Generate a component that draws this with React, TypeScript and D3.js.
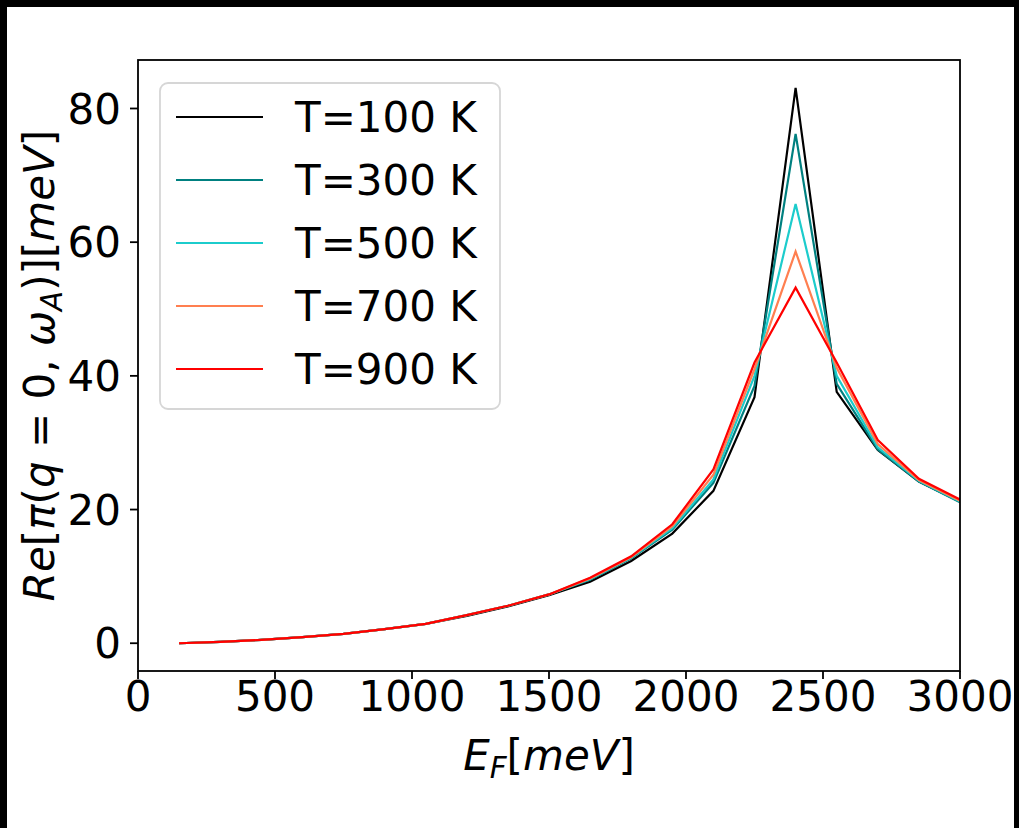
import React from "react";
import * as d3 from "d3";

const energies = [150, 300, 450, 600, 750, 900, 1050, 1200, 1350, 1500, 1650, 1800, 1950, 2100, 2250, 2400, 2550, 2700, 2850, 3000];
const t100 = [0.0, 0.2, 0.5, 0.9, 1.4, 2.1, 2.9, 4.1, 5.5, 7.2, 9.2, 12.3, 16.4, 22.8, 36.8, 83.1, 37.6, 28.9, 24.2, 21.2];
const t300 = [0.0, 0.2, 0.5, 0.9, 1.4, 2.1, 2.9, 4.2, 5.6, 7.3, 9.5, 12.7, 17.0, 24.0, 38.5, 76.2, 38.8, 29.0, 24.2, 21.1];
const t500 = [0.0, 0.2, 0.5, 0.9, 1.4, 2.1, 2.9, 4.2, 5.6, 7.3, 9.6, 12.8, 17.2, 24.5, 40.0, 65.7, 40.0, 29.3, 24.3, 21.2];
const t700 = [0.0, 0.2, 0.5, 0.9, 1.4, 2.1, 2.9, 4.2, 5.6, 7.3, 9.7, 12.9, 17.5, 25.2, 41.0, 58.6, 41.2, 29.8, 24.4, 21.3];
const t900 = [0.0, 0.2, 0.5, 0.9, 1.4, 2.1, 2.9, 4.2, 5.6, 7.3, 9.8, 13.0, 17.8, 26.0, 42.0, 53.2, 42.0, 30.4, 24.6, 21.5];
const seriesLabels = ["T=100 K", "T=300 K", "T=500 K", "T=700 K", "T=900 K"];
const seriesColors = ["#000000", "#008080", "#1ccccc", "#ff7f50", "#ff0000"];
const xTicks = [0, 500, 1000, 1500, 2000, 2500, 3000];
const yTicks = [0, 20, 40, 60, 80];

const allSeries = [t100, t300, t500, t700, t900];

export default function App() {
  const W = 1019, H = 828;
  const L = 138, R = 960, T = 60, B = 671;
  const font = "DejaVu Sans";
  const fs = 42;
  const ymax = d3.max(allSeries.flat()) as number;
  const ymin = d3.min(allSeries.flat()) as number;
  const pad = (ymax - ymin) * 0.05;
  const x = d3.scaleLinear().domain([0, 3000]).range([L, R]);
  const y = d3.scaleLinear().domain([ymin - pad, ymax + pad]).range([B, T]);
  const line = d3.line<number>().x((_, i) => x(energies[i])).y((d) => y(d));

  const legX = 160, legY = 83, legW = 340, legH = 326;
  const rowY0 = 117, rowStep = 63;

  return (
    <div style={{ position: "absolute", left: 0, top: 0 }}>
      <svg width={W} height={H} style={{ display: "block" }} fontFamily={font}>
        <rect x={0} y={0} width={W} height={H} fill="#000" />
        <rect x={7} y={7} width={1007} height={H - 7} fill="#fff" />
        <defs>
          <clipPath id="plotclip">
            <rect x={L} y={T} width={R - L} height={B - T} />
          </clipPath>
        </defs>
        <g clipPath="url(#plotclip)">
          {allSeries.map((s, i) => (
            <path key={i} d={line(s) || ""} fill="none" stroke={seriesColors[i]} strokeWidth={2.2} strokeLinejoin="miter" />
          ))}
        </g>
        <rect x={L} y={T} width={R - L} height={B - T} fill="none" stroke="#000" strokeWidth={1.8} />
        {xTicks.map((t) => (
          <g key={"x" + t}>
            <line x1={x(t)} x2={x(t)} y1={B} y2={B + 8} stroke="#000" strokeWidth={1.8} />
            <text x={x(t)} y={B + 40} textAnchor="middle" fontSize={fs} fill="#000">{t}</text>
          </g>
        ))}
        {yTicks.map((t) => (
          <g key={"y" + t}>
            <line x1={L - 8} x2={L} y1={y(t)} y2={y(t)} stroke="#000" strokeWidth={1.8} />
            <text x={L - 17} y={y(t)} dy="0.36em" textAnchor="end" fontSize={fs} fill="#000">{t}</text>
          </g>
        ))}
        <text x={(L + R) / 2} y={770} textAnchor="middle" fontSize={fs} fill="#000">
          <tspan fontStyle="italic">E</tspan>
          <tspan fontStyle="italic" fontSize={fs * 0.7} dy={8}>F</tspan>
          <tspan dy={-8}>[</tspan>
          <tspan fontStyle="italic">meV</tspan>
          <tspan>]</tspan>
        </text>
        <text transform={`translate(54, ${(T + B) / 2}) rotate(-90)`} textAnchor="middle" fontSize={fs} fill="#000">
          <tspan fontStyle="italic">Re</tspan>
          <tspan>[</tspan>
          <tspan fontStyle="italic">π</tspan>
          <tspan>(</tspan>
          <tspan fontStyle="italic">q</tspan>
          <tspan> = 0, </tspan>
          <tspan fontStyle="italic">ω</tspan>
          <tspan fontStyle="italic" fontSize={fs * 0.7} dy={8}>A</tspan>
          <tspan dy={-8}>)][</tspan>
          <tspan fontStyle="italic">meV</tspan>
          <tspan>]</tspan>
        </text>
        <rect x={legX} y={legY} width={legW} height={legH} rx={8} ry={8} fill="#fff" fillOpacity={0.8} stroke="#d6d6d6" strokeWidth={1.8} />
        {seriesLabels.map((lab, i) => (
          <g key={lab}>
            <line x1={176} x2={263} y1={rowY0 + i * rowStep} y2={rowY0 + i * rowStep} stroke={seriesColors[i]} strokeWidth={2.2} />
            <text x={295} y={rowY0 + i * rowStep} dy="0.36em" fontSize={fs} fill="#000">{lab}</text>
          </g>
        ))}
      </svg>
    </div>
  );
}
